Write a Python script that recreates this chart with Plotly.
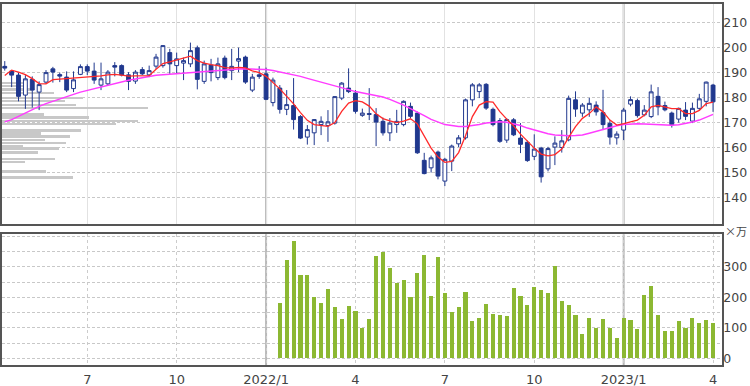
import datetime as dt
import plotly.graph_objects as go

# ---------------- data (weekly candles, week start Mondays) ----------------
first_week = dt.date(2021, 4, 12)

opens = [192.5, 190.6, 189.0, 181.0, 187.3, 182.2, 186.2, 191.5, 189.2, 188.2,
         183.6, 189.3, 192.4, 190.6, 185.0, 185.5, 192.8, 192.8, 189.1, 186.6,
         191.2, 189.1, 192.6, 192.8, 198.0, 192.8, 193.8, 193.5, 199.9, 186.5,
         193.0, 188.0, 195.8, 190.8, 194.6, 196.2, 183.0, 189.1, 189.5, 178.0,
         183.8, 175.3, 176.8, 172.4, 164.2, 165.9, 169.2, 168.8, 169.8, 179.8,
         183.8, 181.8, 172.9, 173.6, 173.2, 170.5, 165.9, 169.2, 169.2, 176.5,
         173.8, 154.9, 151.9, 158.2, 146.6, 154.6, 161.5, 163.9, 179.1, 182.4,
         185.3, 175.3, 170.8, 163.0, 171.1, 163.8, 162.1, 156.5, 159.8, 151.5,
         160.2, 160.0, 163.1, 179.1, 173.8, 175.1, 177.0, 174.0, 169.7, 163.9,
         167.0, 177.4, 178.8, 173.1, 172.4, 180.5, 176.8, 173.8, 171.4, 175.0,
         170.6, 175.7, 178.5, 185.0]
highs = [194.6, 191.0, 190.0, 189.0, 188.5, 186.5, 191.0, 192.3, 190.0, 190.5,
         190.5, 193.3, 193.3, 194.0, 194.0, 191.0, 194.2, 193.3, 190.2, 191.0,
         192.2, 192.8, 197.5, 201.0, 199.5, 198.0, 196.0, 202.0, 200.8, 194.8,
         195.5, 196.0, 196.8, 199.5, 200.0, 196.8, 189.5, 192.6, 192.0, 188.0,
         185.0, 183.0, 187.8, 173.0, 169.0, 171.4, 172.5, 175.0, 180.5, 186.2,
         191.7, 183.0, 175.6, 183.8, 175.8, 172.0, 171.8, 175.1, 178.9, 178.0,
         174.4, 157.9, 156.8, 158.8, 155.9, 161.2, 165.0, 179.6, 185.8, 185.8,
         185.8, 176.0, 171.8, 171.8, 171.8, 169.8, 162.8, 165.3, 160.3, 160.3,
         164.5, 167.0, 180.8, 182.5, 177.8, 179.9, 178.5, 183.1, 171.0, 166.5,
         175.9, 180.5, 179.6, 177.0, 185.2, 184.2, 178.4, 174.4, 176.0, 178.2,
         178.0, 181.5, 186.4, 185.5]
lows = [190.8, 184.2, 178.5, 175.5, 176.0, 175.0, 185.5, 186.0, 186.2, 182.2,
        182.2, 189.0, 189.0, 185.5, 183.0, 185.0, 188.5, 188.5, 183.0, 185.5,
        189.0, 188.2, 191.5, 192.0, 189.5, 189.5, 187.0, 192.2, 183.3, 185.5,
        186.5, 187.0, 187.3, 187.0, 190.2, 185.5, 182.2, 187.5, 179.0, 176.5,
        173.6, 173.0, 167.2, 163.4, 161.2, 161.0, 165.0, 162.3, 169.2, 179.0,
        181.8, 173.6, 172.3, 171.0, 160.6, 164.8, 162.6, 165.9, 168.5, 171.8,
        157.5, 149.3, 150.0, 147.3, 144.6, 150.6, 160.2, 163.2, 176.5, 179.8,
        175.1, 168.5, 161.9, 161.9, 164.6, 157.8, 154.3, 155.0, 146.0, 150.5,
        153.0, 158.0, 162.5, 172.3, 172.3, 172.3, 172.8, 167.0, 161.2, 161.2,
        163.0, 176.5, 172.0, 172.5, 171.8, 172.9, 174.5, 168.0, 170.0, 171.0,
        169.8, 175.0, 176.5, 174.3]
closes = [191.8, 189.0, 180.5, 187.5, 183.0, 185.2, 190.0, 190.2, 188.6, 183.0,
          187.1, 192.4, 190.6, 187.0, 187.5, 190.2, 192.2, 189.0, 186.5, 190.2,
          189.5, 190.8, 196.2, 200.8, 193.5, 195.5, 194.8, 198.8, 187.3, 193.5,
          190.0, 193.5, 188.0, 192.5, 195.6, 186.2, 188.2, 188.5, 179.3, 187.0,
          175.3, 177.2, 171.2, 163.8, 167.2, 171.2, 170.5, 170.3, 180.4, 185.8,
          182.4, 174.5, 173.8, 173.3, 170.2, 165.9, 169.8, 170.5, 178.5, 172.5,
          157.9, 149.6, 155.9, 148.6, 155.3, 160.6, 163.9, 179.1, 185.1, 185.1,
          175.8, 169.2, 162.5, 171.2, 165.1, 161.3, 154.8, 159.4, 148.3, 159.6,
          161.8, 162.7, 179.7, 175.4, 177.0, 177.7, 174.3, 169.2, 164.2, 165.4,
          175.0, 179.2, 172.8, 175.0, 182.3, 176.3, 175.1, 169.1, 175.7, 172.5,
          175.7, 179.5, 186.2, 178.3]

# short moving average (red) and long moving average (magenta)
ma_short = [188.8, 191.0, 190.2, 189.2, 187.6, 185.6, 185.5, 187.2, 187.4, 187.6,
            187.7, 187.9, 188.2, 188.4, 188.7, 189.1, 189.3, 189.0, 188.6, 188.7,
            188.9, 188.8, 191.3, 193.6, 194.3, 195.1, 195.8, 196.6, 194.8, 193.8,
            193.2, 192.8, 192.0, 191.8, 192.1, 191.9, 190.7, 190.0, 188.5, 186.0,
            183.5, 180.5, 177.5, 174.0, 170.9, 169.2, 168.8, 168.5, 170.0, 174.5,
            177.8, 178.8, 178.3, 176.6, 173.5, 171.6, 170.7, 170.0, 170.6, 171.5,
            169.5, 164.7, 159.8, 156.2, 154.1, 154.5, 158.0, 164.7, 172.4, 177.0,
            178.4, 178.2, 174.4, 171.4, 168.7, 165.4, 162.4, 159.8, 157.4, 156.7,
            157.2, 159.4, 164.1, 168.4, 171.7, 173.6, 176.3, 174.3, 171.0, 169.0,
            169.6, 170.3, 171.0, 172.9, 176.3, 176.9, 176.3, 175.6, 175.6, 173.6,
            173.6, 174.9, 177.6, 178.2]
ma_long = [170.3, 171.2, 172.5, 173.9, 175.2, 176.5, 177.6, 178.6, 179.6, 180.5,
           181.3, 182.2, 182.9, 183.6, 184.2, 185.1, 185.8, 186.2, 186.9, 187.4,
           187.9, 188.5, 188.9, 189.1, 189.3, 189.5, 189.8, 190.1, 190.3, 190.6,
           190.8, 191.0, 191.1, 191.2, 191.4, 191.5, 191.5, 191.4, 191.2, 190.8,
           190.3, 189.8, 189.2, 188.5, 187.7, 187.0, 186.3, 185.5, 184.8, 184.0,
           183.2, 182.4, 181.9, 181.4, 180.9, 180.2, 179.3, 178.3, 177.0, 175.6,
           174.3, 172.8, 171.3, 170.2, 169.2, 168.8, 168.4, 168.4, 168.7, 169.2,
           169.8, 170.1, 170.3, 170.1, 169.6, 168.8, 167.8, 167.0, 166.2, 165.5,
           165.0, 164.8, 164.7, 164.8, 165.0, 165.7, 166.5, 167.3, 168.0, 168.7,
           169.2, 169.4, 169.5, 169.4, 169.2, 169.0, 168.9, 168.9, 169.1, 169.5,
           170.2, 171.0, 172.0, 173.3]

# weekly volume (x 10,000 shares), available for the last weeks only
volume = [182, 321, 383, 272, 274, 199, 180, 226, 169, 129, 171, 155, 100, 128,
          334, 347, 297, 246, 255, 199, 278, 339, 204, 332, 213, 151, 168, 218,
          121, 133, 178, 145, 143, 139, 230, 204, 175, 233, 225, 214, 301, 188,
          174, 141, 78, 131, 100, 127, 98, 67, 133, 125, 97, 208, 237, 141, 89,
          89, 121, 100, 131, 116, 126, 114]

# volume-by-price profile
profile_price = [186.0, 184.7, 183.4, 181.9, 180.0, 178.7, 177.2, 175.9, 173.3,
                 172.2, 170.8, 169.6, 167.0, 165.7, 164.5, 163.2, 162.0, 160.7,
                 159.8, 158.2, 155.6, 154.4, 150.6, 148.2]
profile_volume = [22, 26, 30, 52, 81, 63, 74, 146, 42, 87, 136, 114, 79, 39, 68,
                  43, 64, 21, 57, 36, 53, 23, 44, 71]

price_ticks = [140, 150, 160, 170, 180, 190, 200, 210]
volume_ticks = [0, 100, 200, 300]

# ---------------- derived week index / month ticks ----------------
n = len(opens)
weeks = [first_week + dt.timedelta(weeks=i) for i in range(n)]
idx = list(range(n))
vol_idx = idx[n - len(volume):]

tick_vals, tick_text = [], []
for i in range(1, n):
    if weeks[i].month != weeks[i - 1].month and weeks[i].month in (1, 4, 7, 10):
        tick_vals.append(i)
        tick_text.append(f"{weeks[i].year}/1" if weeks[i].month == 1 else str(weeks[i].month))
year_ticks = [v for v, t in zip(tick_vals, tick_text) if "/" in t]

NAVY = "#20388e"
GRID = "#c8c8c8"
FRAME = "#555555"
FONT = dict(family="DejaVu Sans", size=13, color="#444444")
YFONT = dict(family="DejaVu Sans", size=12.5, color="#444444")

fig = go.Figure()
fig.add_trace(go.Bar(y=profile_price, x=profile_volume, orientation="h",
                     xaxis="x", yaxis="y", width=0.75,
                     marker=dict(color="#c8c8c8", line=dict(width=0)),
                     showlegend=False, hoverinfo="skip"))
fig.add_trace(go.Candlestick(x=idx, open=opens, high=highs, low=lows, close=closes,
                             xaxis="x2", yaxis="y", whiskerwidth=0,
                             increasing=dict(line=dict(color=NAVY, width=1), fillcolor="white"),
                             decreasing=dict(line=dict(color=NAVY, width=1), fillcolor=NAVY),
                             showlegend=False))
fig.add_trace(go.Scatter(x=idx, y=ma_long, mode="lines", xaxis="x2", yaxis="y",
                         line=dict(color="#ff3cff", width=1.5), showlegend=False))
fig.add_trace(go.Scatter(x=idx, y=ma_short, mode="lines", xaxis="x2", yaxis="y",
                         line=dict(color="#ff2a2a", width=1.3), showlegend=False))
fig.add_trace(go.Bar(x=vol_idx, y=volume, xaxis="x3", yaxis="y2", width=0.6,
                     marker=dict(color="#8cb832", line=dict(width=0)),
                     showlegend=False))

shapes = []
for t in year_ticks:
    shapes.append(dict(type="line", xref="x2", yref="y domain", x0=t, x1=t, y0=0, y1=1,
                       line=dict(color="#b8b8b8", width=2), layer="below"))
    shapes.append(dict(type="line", xref="x3", yref="y2 domain", x0=t, x1=t, y0=0, y1=1,
                       line=dict(color="#b8b8b8", width=2), layer="below"))

vol_grid = list(range(0, 401, 50))
vol_text = [str(v) if v in volume_ticks else "" for v in vol_grid]

fig.update_layout(
    width=750, height=386,
    margin=dict(l=2, r=28, t=2, b=21),
    paper_bgcolor="white", plot_bgcolor="white",
    font=FONT,
    boxgap=0.2, bargap=0,
    shapes=shapes,
    xaxis=dict(domain=[0, 1], anchor="y", range=[0, 720], visible=False, fixedrange=True),
    xaxis2=dict(overlaying="x", anchor="y", range=[-0.4, 104.3],
                tickvals=tick_vals, showticklabels=False, ticks="",
                showgrid=True, gridcolor="#e2e2e2", gridwidth=1,
                showline=True, mirror=True, linecolor=FRAME, linewidth=1.5,
                zeroline=False, rangeslider=dict(visible=False)),
    yaxis=dict(domain=[0.3904, 1], anchor="x", range=[129.4, 217.45], side="right",
               tickvals=price_ticks, ticks="", showgrid=True, gridcolor=GRID,
               griddash="3px,2px", gridwidth=1, zeroline=False,
               showline=True, mirror=True, linecolor=FRAME, linewidth=1.5,
               ticklabelstandoff=-3, automargin=False, tickfont=YFONT),
    xaxis3=dict(domain=[0, 1], anchor="y2", matches="x2",
                tickvals=tick_vals, ticktext=tick_text, ticks="",
                showgrid=True, gridcolor="#cccccc", griddash="dot", gridwidth=1,
                showline=True, mirror=True, linecolor=FRAME, linewidth=1.5,
                zeroline=False, ticklabelstandoff=2, automargin=False),
    yaxis2=dict(domain=[0, 0.3623], anchor="x3", range=[-21.8, 407], side="right",
                tickvals=vol_grid, ticktext=vol_text, ticks="",
                showgrid=True, gridcolor=GRID, griddash="3px,2px", gridwidth=1,
                zeroline=False, showline=True, mirror=True, linecolor=FRAME,
                linewidth=1.5, ticklabelstandoff=-3, automargin=False, tickfont=YFONT),
    annotations=[dict(text="×万", xref="paper", yref="paper", x=1.037, y=0.37,
                      xanchor="right", yanchor="middle", showarrow=False,
                      font=dict(family="Noto Sans CJK JP", size=11, color="#444444"))],
)

fig.write_html("out.html", config={"displayModeBar": False},
               post_script="document.body.style.margin='0';")
